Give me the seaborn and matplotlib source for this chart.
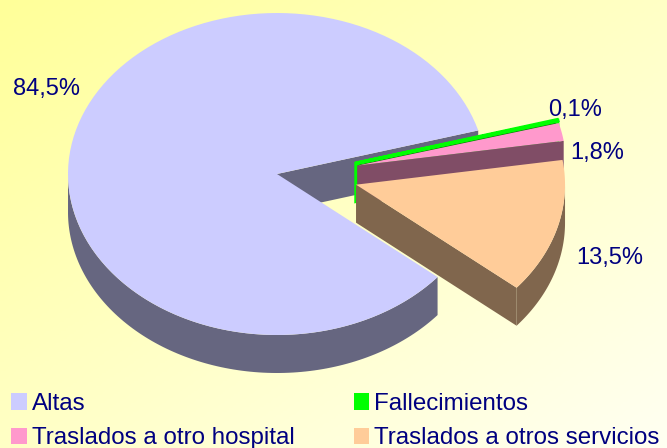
import numpy as np
import matplotlib.pyplot as plt
import seaborn as sns
from matplotlib.patches import Polygon, Patch
from matplotlib.colors import LinearSegmentedColormap, to_rgb

# Data
categories = ["Altas", "Fallecimientos", "Traslados a otro hospital", "Traslados a otros servicios"]
values = [84.5, 0.1, 1.8, 13.5]
value_labels = ["84,5%", "0,1%", "1,8%", "13,5%"]

# Style
colors = ["#CCCCFF", "#00FF00", "#FF99CC", "#FFCC99"]
explode = [0, 1, 1, 1]
label_pos = [(46, 89), (575, 110), (597, 153), (610, 258)]
text_color = "#000080"

sns.set_theme(style="white")
plt.rcParams["font.family"] = ["Liberation Sans", "DejaVu Sans"]

fig = plt.figure(figsize=(6.67, 4.48), dpi=100)
ax = fig.add_axes([0, 0, 1, 1])
ax.set_xlim(0, 667)
ax.set_ylim(448, 0)
ax.axis("off")

# diagonal yellow background
yy, xx = np.mgrid[0:1:200j, 0:1:300j]
bg = LinearSegmentedColormap.from_list("bg", ["#FFFF99", "#FFFFF2"])
ax.imshow((xx + yy) / 2, cmap=bg, extent=(0, 667, 448, 0), aspect="auto", zorder=0)

# pie geometry (pixels)
cx, cy, rx, ry, depth = 277, 174, 209, 161, 38
ex, ey = 82, 40
start = -39.8


def arc(ox, oy, t1, t2, n=120):
    ts = np.radians(np.linspace(t1, t2, n))
    return np.column_stack([ox + rx * np.cos(ts), oy - ry * np.sin(ts)])


def dark(c):
    return tuple(v * 0.5 for v in to_rgb(c))


fracs = np.array(values) / sum(values) * 360
cum = np.concatenate([[0], np.cumsum(fracs)])
z = 1
for i, col in enumerate(colors):
    hi = start - cum[i]
    lo = start - cum[i + 1]
    mid = np.radians((hi + lo) / 2)
    ox = cx + explode[i] * ex * np.cos(mid)
    oy = cy - explode[i] * ey * np.sin(mid)
    side = dark(col)
    edge = col if col == "#00FF00" else "none"
    lw = 2.5 if col == "#00FF00" else 0

    # radial faces turned to the viewer
    for t, show in ((lo, np.cos(np.radians(lo)) > 0), (hi, np.cos(np.radians(hi)) < 0)):
        if show:
            rim = arc(ox, oy, t, t, 1)[0]
            face = [(ox, oy), tuple(rim), (rim[0], rim[1] + depth), (ox, oy + depth)]
            ax.add_patch(Polygon(face, closed=True, facecolor=side, edgecolor=edge, lw=lw, zorder=z))
    # outer wall, front half only
    ts = np.linspace(lo, hi, 400)
    front = np.sin(np.radians(ts)) <= 0
    if front.any():
        idx = np.where(front)[0]
        runs = np.split(idx, np.where(np.diff(idx) > 1)[0] + 1)
        for r in runs:
            top = arc(ox, oy, ts[r[0]], ts[r[-1]])
            bot = top[::-1] + [0, depth]
            ax.add_patch(Polygon(np.vstack([top, bot]), closed=True, facecolor=side,
                                 edgecolor="none", zorder=z))
    # top face
    top = np.vstack([[ox, oy], arc(ox, oy, lo, hi)])
    ax.add_patch(Polygon(top, closed=True, facecolor=col, edgecolor=edge, lw=lw, zorder=z + 0.5))
    z += 1

for (x, y), s in zip(label_pos, value_labels):
    ax.text(x, y, s, ha="center", va="center", fontsize=17, color=text_color, zorder=20)

# legend filled row by row (matplotlib fills columns, so reorder)
order = [0, 2, 1, 3]
handles = [Patch(facecolor=colors[k], edgecolor="none") for k in order]
fig.legend(handles, [categories[k] for k in order], ncol=2, loc="upper left",
           bbox_to_anchor=(11 / 667, 1 - 393 / 448), frameon=False, fontsize=17.4,
           labelcolor=text_color, handlelength=0.65, handleheight=0.65,
           handletextpad=0.2, columnspacing=2.45, labelspacing=0.5,
           borderpad=0, borderaxespad=0)

fig.savefig("out.png", dpi=100)
